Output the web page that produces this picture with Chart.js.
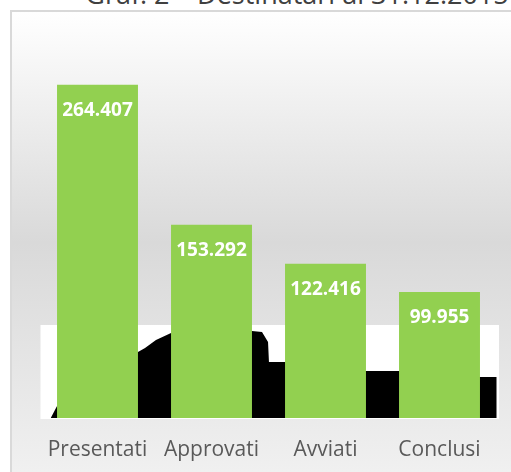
<!DOCTYPE html>
<html><head><meta charset="utf-8">
<script src="https://cdn.jsdelivr.net/npm/chart.js@4/dist/chart.umd.min.js"></script>
<style>
html,body{margin:0;padding:0;width:511px;height:472px;overflow:hidden;background:#fff;}
#box{position:absolute;left:10px;top:10px;width:600px;height:480px;border:2px solid #d9d9d9;
 background:linear-gradient(to bottom,#ffffff 0%,#d9d9d9 48%,#f2f2f2 100%);}
#title{position:absolute;left:0;width:594px;top:-25px;text-align:center;font-family:"Open Sans",sans-serif;font-size:27px;color:#404040;white-space:nowrap;}
#wrap{position:absolute;left:0;top:0;width:511px;height:472px;}
</style></head><body>
<div id="box"></div>
<div id="title">Graf. 2 – Destinatari al 31.12.2015</div>
<div id="wrap"><canvas id="c" width="511" height="472"></canvas></div>
<script>
const categories = ["Presentati", "Approvati", "Avviati", "Conclusi"];
const values = [264407, 153292, 122416, 99955];
const valueLabels = ["264.407", "153.292", "122.416", "99.955"];
// artefact shadow area (x in category units, y in data units)
const shadowX = [-0.41, -0.355, 0.355, 0.417, 0.513, 0.645, 1.355, 1.443, 1.496, 1.504, 2.30, 2.30, 3.30, 3.30, 3.522, 3.522];
const shadowY = [0, 9500, 52400, 55600, 61900, 67500, 69000, 68300, 60300, 44400, 44400, 37300, 37300, 32500, 32500, 0];
const bandTop = 73800;
const yMax = 300000;

const shadowData = shadowX.map((x, i) => ({x: x, y: shadowY[i]}));

const bandPlugin = {
  id: 'band',
  beforeDatasetsDraw(chart) {
    const {ctx, chartArea, scales} = chart;
    const top = scales.y.getPixelForValue(bandTop);
    const bottom = scales.y.getPixelForValue(0);
    ctx.save();
    ctx.fillStyle = '#ffffff';
    ctx.fillRect(chartArea.left, top, chartArea.right - chartArea.left + 2.5, bottom - top + 1);
    ctx.restore();
  }
};
const labelPlugin = {
  id: 'vlabels',
  afterDatasetsDraw(chart) {
    const {ctx} = chart;
    const meta = chart.getDatasetMeta(1);
    ctx.save();
    ctx.fillStyle = '#ffffff';
    ctx.font = 'bold 19px "Open Sans", sans-serif';
    ctx.textAlign = 'center';
    ctx.textBaseline = 'middle';
    meta.data.forEach((bar, i) => {
      ctx.fillText(valueLabels[i], bar.x, bar.y + 26);
    });
    ctx.restore();
  }
};

new Chart(document.getElementById('c'), {
  data: {
    labels: categories,
    datasets: [
      {type: 'line', data: shadowData, xAxisID: 'xs', yAxisID: 'y', borderWidth: 0,
       borderColor: '#000', backgroundColor: '#000', fill: 'origin', pointRadius: 0,
       tension: 0, clip: 6, order: 2},
      {type: 'bar', data: values, xAxisID: 'x', yAxisID: 'y', backgroundColor: '#92D050',
       borderWidth: 0, grouped: false, categoryPercentage: 1, barPercentage: 0.71, order: 1}
    ]
  },
  options: {
    responsive: false, animation: false,
    layout: {padding: {left: 40.5, right: 14.5, top: 40, bottom: 0}},
    plugins: {legend: {display: false}, tooltip: {enabled: false}, title: {display: false}},
    scales: {
      x: {type: 'category', offset: true, grid: {display: false},
          border: {display: false},
          ticks: {color: '#595959', font: {family: '"Open Sans", sans-serif', size: 21}, padding: 11},
          afterFit: s => { s.height = 54; }},
      xs: {type: 'linear', min: -0.5, max: 3.5, display: false},
      y: {min: 0, max: yMax, display: false}
    }
  },
  plugins: [bandPlugin, labelPlugin]
});
</script>
</body></html>
